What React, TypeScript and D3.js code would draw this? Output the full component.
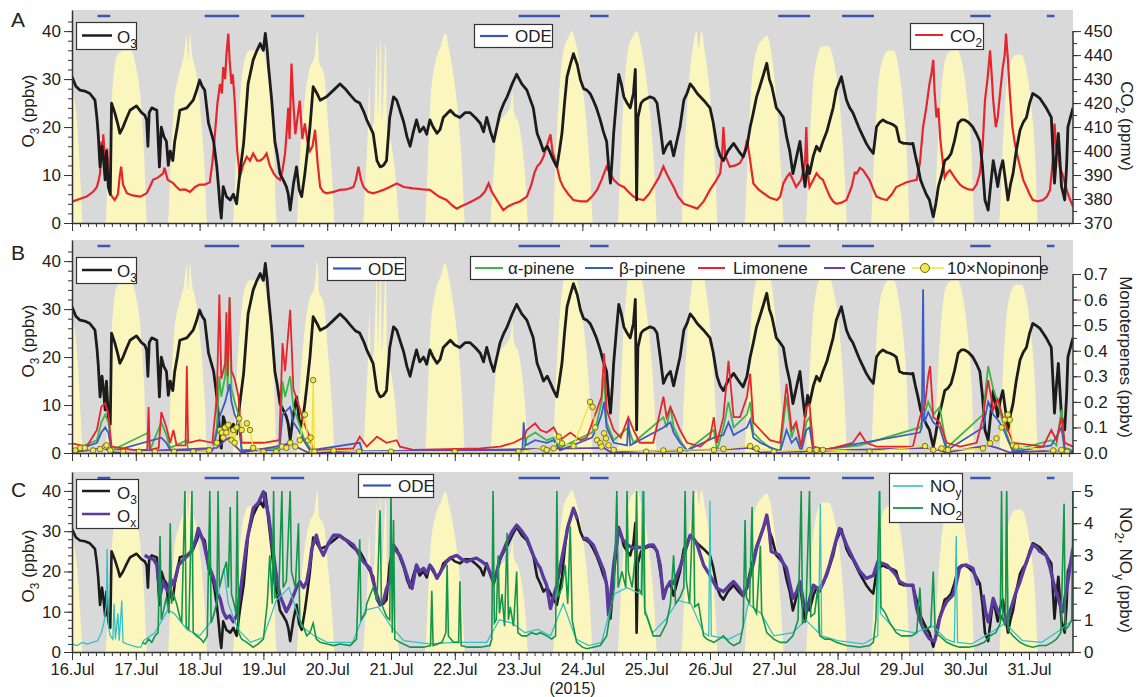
import React, { useRef, useEffect } from 'react';
import * as d3 from 'd3';

// time in days since 16 Jul 2015 00:00
const dayLabels = ['16.Jul', '17.Jul', '18.Jul', '19.Jul', '20.Jul', '21.Jul', '22.Jul', '23.Jul',
  '24.Jul', '25.Jul', '26.Jul', '27.Jul', '28.Jul', '29.Jul', '30.Jul', '31.Jul'];
const T_END = 15.69;

// scaled solar radiation (1000 = top of panel)
const solarRad = [
  [0, 620], [0.05, 560], [0.1, 380], [0.14, 150], [0.17, 0],
  [0.52, 0], [0.57, 250], [0.62, 560], [0.7, 780], [0.8, 810], [0.92, 810], [1.0, 740], [1.07, 600], [1.13, 330], [1.18, 0],
  [1.5, 0], [1.55, 300], [1.6, 560], [1.68, 700], [1.75, 780], [1.8, 880], [1.82, 760], [1.85, 890], [1.88, 800], [1.95, 700], [2.02, 500], [2.08, 250], [2.12, 0],
  [2.52, 0], [2.57, 300], [2.63, 580], [2.7, 760], [2.78, 810], [2.98, 810], [3.06, 720], [3.12, 560], [3.17, 300], [3.21, 0],
  [3.52, 0], [3.57, 300], [3.64, 560], [3.72, 720], [3.8, 780], [3.85, 900], [3.87, 760], [3.95, 700], [4.02, 450], [4.08, 200], [4.12, 0],
  [4.56, 0], [4.6, 200], [4.64, 450], [4.66, 650], [4.68, 420], [4.74, 500], [4.78, 830], [4.8, 500], [4.84, 860], [4.86, 480], [4.92, 850], [4.94, 450], [5.0, 380], [5.06, 250], [5.14, 0],
  [5.53, 0], [5.58, 300], [5.62, 580], [5.7, 760], [5.78, 830], [5.85, 890], [5.92, 800], [6.0, 650], [6.07, 450], [6.12, 230], [6.16, 0],
  [6.55, 0], [6.6, 200], [6.65, 400], [6.72, 480], [6.8, 510], [6.88, 560], [6.9, 620], [6.93, 520], [7.0, 470], [7.07, 330], [7.12, 150], [7.15, 0],
  [7.54, 0], [7.58, 300], [7.63, 580], [7.7, 800], [7.78, 870], [7.83, 900], [7.9, 840], [7.98, 700], [8.06, 480], [8.12, 250], [8.17, 0],
  [8.55, 0], [8.6, 300], [8.65, 600], [8.72, 820], [8.8, 880], [8.85, 900], [8.92, 830], [9.0, 680], [9.08, 450], [9.13, 230], [9.17, 0],
  [9.55, 0], [9.6, 320], [9.66, 620], [9.72, 800], [9.79, 900], [9.82, 820], [9.87, 900], [9.92, 800], [9.99, 640], [10.05, 400], [10.09, 200], [10.12, 0],
  [10.54, 0], [10.59, 300], [10.64, 600], [10.72, 800], [10.82, 860], [10.89, 880], [10.95, 820], [11.02, 650], [11.08, 420], [11.12, 200], [11.16, 0],
  [11.5, 0], [11.55, 300], [11.6, 580], [11.68, 780], [11.76, 830], [11.86, 830], [11.94, 760], [12.02, 600], [12.08, 380], [12.12, 180], [12.15, 0],
  [12.52, 0], [12.57, 300], [12.62, 580], [12.7, 760], [12.8, 810], [12.88, 810], [12.96, 720], [13.03, 550], [13.09, 300], [13.13, 0],
  [13.51, 0], [13.56, 300], [13.62, 600], [13.7, 780], [13.8, 810], [13.88, 810], [13.96, 740], [14.04, 560], [14.1, 330], [14.15, 0],
  [14.53, 0], [14.58, 300], [14.63, 580], [14.7, 740], [14.8, 790], [14.88, 790], [14.96, 720], [15.04, 540], [15.1, 300], [15.14, 0],
  [15.69, 0],
];

// ozone depletion events [start, end]
const odePeriods = [[0.4, 0.6], [2.08, 2.62], [3.12, 3.64], [7.0, 7.65], [8.12, 8.41],
  [11.07, 11.57], [12.07, 12.57], [14.08, 14.4], [15.28, 15.4]];

// O3 (ppbv)
const o3 = [
  [0, 30.5], [0.06, 28.5], [0.125, 27.7], [0.2, 27.5], [0.28, 27], [0.36, 25.6], [0.39, 22], [0.41, 18.7], [0.44, 11.7], [0.47, 16],
  [0.49, 13.8], [0.52, 9], [0.54, 15], [0.57, 7.5], [0.6, 6], [0.62, 25], [0.67, 23], [0.72, 20.5], [0.75, 18.7], [0.8, 20],
  [0.86, 22], [0.91, 23.5], [1.01, 24.4], [1.09, 23], [1.14, 22.5], [1.17, 21.5], [1.19, 16], [1.21, 23], [1.25, 24], [1.33, 23.5],
  [1.37, 11.7], [1.4, 20], [1.44, 18], [1.48, 17], [1.51, 12], [1.54, 15], [1.58, 13], [1.61, 17], [1.65, 20], [1.69, 23.5],
  [1.8, 24], [1.9, 25.6], [1.95, 27.5], [2.0, 29.8], [2.04, 28.5], [2.08, 27.7], [2.14, 20.8], [2.22, 17], [2.27, 11.7], [2.3, 7],
  [2.32, 3.4], [2.34, 1], [2.37, 7.6], [2.42, 5.5], [2.48, 4.8], [2.53, 6], [2.58, 4], [2.63, 10.3], [2.69, 16.6], [2.76, 29],
  [2.84, 34], [2.9, 36], [2.95, 37.4], [3.0, 36], [3.03, 39.5], [3.06, 36], [3.08, 32.6], [3.13, 25.6], [3.18, 17], [3.22, 14],
  [3.26, 10.3], [3.31, 9], [3.36, 7.6], [3.39, 6], [3.42, 2.7], [3.47, 8], [3.52, 11.7], [3.56, 7], [3.6, 5.5], [3.65, 10.3],
  [3.69, 15], [3.73, 20], [3.78, 28.4], [3.84, 27], [3.89, 25.6], [3.99, 26.3], [4.1, 27.7], [4.2, 29], [4.28, 28], [4.36, 26.7],
  [4.44, 25.5], [4.51, 25], [4.58, 23], [4.62, 21.5], [4.72, 18.7], [4.78, 13], [4.83, 11.7], [4.88, 12], [4.93, 13], [4.98, 22],
  [5.04, 26.3], [5.09, 25.6], [5.14, 23.5], [5.2, 21], [5.25, 18], [5.3, 16], [5.35, 19], [5.4, 21.5], [5.45, 19], [5.51, 20],
  [5.56, 18.5], [5.61, 21.5], [5.66, 20], [5.72, 18.7], [5.77, 19.5], [5.82, 22], [5.93, 23.5], [6.0, 22.5], [6.08, 22], [6.16, 23],
  [6.24, 23], [6.32, 22], [6.4, 20.8], [6.45, 19], [6.5, 22], [6.56, 19], [6.61, 17], [6.66, 20], [6.71, 23], [6.77, 25],
  [6.82, 26.3], [6.9, 29], [6.97, 31], [7.05, 29], [7.13, 27.7], [7.23, 24], [7.29, 18.7], [7.34, 17], [7.39, 15], [7.45, 16],
  [7.5, 14.5], [7.55, 13], [7.6, 11.7], [7.64, 15], [7.68, 18.7], [7.72, 25], [7.76, 30.5], [7.81, 33], [7.86, 35.3], [7.92, 33],
  [7.97, 29.8], [8.02, 28], [8.07, 27.7], [8.12, 27], [8.17, 25.6], [8.22, 24], [8.28, 21.5], [8.33, 19], [8.38, 17], [8.41, 12],
  [8.44, 8.3], [8.47, 14], [8.49, 18.7], [8.53, 25], [8.57, 31], [8.61, 29], [8.65, 26.3], [8.7, 25], [8.75, 24], [8.8, 27],
  [8.83, 32], [8.84, 18], [8.85, 4.8], [8.87, 22], [8.92, 25], [8.96, 25.6], [9.06, 26.3], [9.12, 26], [9.17, 25], [9.22, 20],
  [9.27, 14.5], [9.32, 16], [9.38, 17], [9.43, 14], [9.48, 17], [9.53, 20], [9.59, 25.6], [9.64, 27], [9.69, 29], [9.75, 28],
  [9.8, 27], [9.9, 25.6], [10.0, 24], [10.05, 21], [10.11, 16], [10.16, 14], [10.21, 13], [10.28, 15], [10.37, 16.6], [10.45, 15],
  [10.52, 13.8], [10.58, 16], [10.63, 20], [10.68, 23], [10.73, 26.3], [10.78, 28.4], [10.84, 31], [10.89, 33.3], [10.93, 30], [10.97, 28.4],
  [11.04, 24], [11.1, 23], [11.15, 22], [11.2, 18], [11.25, 15], [11.3, 10.3], [11.36, 14], [11.41, 17], [11.45, 12], [11.49, 7.6],
  [11.53, 12], [11.56, 10.3], [11.62, 14], [11.67, 16], [11.72, 15], [11.77, 17], [11.83, 19], [11.88, 21.5], [11.93, 24], [11.98, 27.7],
  [12.06, 30.5], [12.1, 28], [12.14, 25.6], [12.19, 24], [12.24, 23], [12.3, 21], [12.35, 19.4], [12.4, 18], [12.45, 16.6], [12.5, 15.5],
  [12.56, 14.5], [12.61, 20], [12.66, 21], [12.71, 21.5], [12.77, 21], [12.82, 20.8], [12.87, 20.5], [12.92, 20], [12.97, 17], [13.03, 16.6],
  [13.08, 16.6], [13.14, 16.5], [13.18, 16.6], [13.22, 14], [13.26, 11.7], [13.3, 9], [13.34, 7.6], [13.39, 6], [13.44, 4.8], [13.47, 3],
  [13.5, 1.3], [13.54, 4], [13.58, 7.6], [13.63, 10], [13.68, 13], [13.73, 13.5], [13.78, 14.5], [13.83, 17], [13.89, 20.8], [13.94, 21.5],
  [13.99, 21.5], [14.05, 21], [14.12, 20], [14.18, 18.5], [14.23, 17], [14.27, 12], [14.31, 4.8], [14.36, 2.7], [14.4, 8], [14.44, 13],
  [14.48, 10], [14.51, 7.6], [14.55, 11], [14.59, 13], [14.63, 9], [14.67, 4.8], [14.71, 8], [14.75, 10.3], [14.8, 15], [14.86, 19.4],
  [14.91, 21], [14.96, 22], [15.01, 25], [15.06, 27], [15.12, 26.5], [15.17, 26], [15.22, 25], [15.27, 24], [15.31, 23], [15.35, 22],
  [15.38, 14], [15.4, 8.3], [15.43, 14], [15.46, 18.7], [15.49, 12], [15.51, 7.6], [15.54, 6], [15.56, 4.8], [15.59, 12], [15.61, 20],
  [15.65, 22], [15.69, 24],
];

// CO2 (ppmv)
const co2 = [
  [0, 378.9], [0.12, 380], [0.23, 381], [0.33, 383], [0.39, 385], [0.42, 388], [0.44, 390.7], [0.46, 404], [0.48, 398], [0.49, 407],
  [0.52, 395], [0.55, 401], [0.58, 388], [0.6, 382], [0.67, 379.6], [0.72, 382], [0.75, 390], [0.77, 393.5], [0.8, 386], [0.86, 382.4],
  [0.95, 381.5], [1.07, 381], [1.17, 382.4], [1.22, 385], [1.27, 388], [1.35, 389], [1.43, 390.7], [1.45, 393], [1.5, 388], [1.59, 386.5],
  [1.64, 385], [1.69, 383.8], [1.77, 384], [1.85, 383], [1.93, 385], [2.0, 386], [2.08, 386], [2.16, 387], [2.2, 395], [2.24, 407],
  [2.28, 420], [2.32, 428], [2.35, 424], [2.37, 435], [2.4, 430], [2.42, 440], [2.45, 449], [2.47, 438], [2.5, 428], [2.52, 432],
  [2.55, 421], [2.57, 410], [2.59, 400], [2.61, 395], [2.63, 389], [2.68, 394], [2.74, 397.6], [2.79, 396], [2.84, 399], [2.9, 396],
  [2.95, 396], [3.0, 397], [3.05, 399], [3.1, 394], [3.16, 390.7], [3.21, 389], [3.26, 388], [3.3, 392], [3.34, 399], [3.37, 410],
  [3.39, 418], [3.41, 405], [3.44, 436.5], [3.47, 420], [3.5, 407], [3.54, 415], [3.57, 421], [3.61, 405], [3.65, 411.5], [3.69, 404],
  [3.73, 400], [3.77, 402], [3.81, 408.8], [3.85, 395], [3.89, 385], [3.94, 383], [3.99, 382.4], [4.1, 383], [4.2, 383.8], [4.3, 384],
  [4.41, 385], [4.45, 388], [4.49, 393.5], [4.53, 388], [4.57, 385], [4.64, 383], [4.72, 382.4], [4.8, 383], [4.88, 383.8], [4.98, 385],
  [5.09, 386.5], [5.2, 385], [5.35, 384.4], [5.5, 384], [5.61, 383.8], [5.75, 381], [5.87, 379.6], [5.95, 377.5], [6.03, 376], [6.1, 377],
  [6.19, 378], [6.3, 379.5], [6.4, 381], [6.47, 383], [6.53, 386.5], [6.58, 383], [6.66, 379.6], [6.72, 377], [6.76, 375.4], [6.84, 377],
  [6.92, 378], [7.02, 379], [7.13, 381], [7.2, 386], [7.25, 391], [7.29, 393.5], [7.34, 395], [7.39, 397.6], [7.44, 402], [7.5, 407],
  [7.53, 400], [7.6, 393.5], [7.65, 388], [7.7, 385], [7.78, 382], [7.86, 379.6], [7.97, 379], [8.07, 379], [8.15, 381], [8.23, 383.8],
  [8.3, 388], [8.38, 393.5], [8.43, 391], [8.49, 388], [8.57, 386], [8.65, 385], [8.72, 383], [8.8, 381], [8.88, 380], [8.96, 379.6],
  [9.04, 382], [9.11, 385], [9.2, 389], [9.27, 393.5], [9.33, 390], [9.43, 385], [9.5, 381], [9.59, 378], [9.7, 377], [9.8, 376],
  [9.9, 379], [10.0, 383.8], [10.08, 387], [10.16, 390.7], [10.19, 398], [10.21, 410], [10.24, 398], [10.31, 393.5], [10.4, 394], [10.47, 395],
  [10.53, 398], [10.58, 404.6], [10.62, 398], [10.68, 386.5], [10.76, 384], [10.84, 382.4], [10.94, 380.5], [11.05, 379.6], [11.1, 381], [11.15, 386.5],
  [11.2, 389], [11.25, 390.7], [11.3, 388], [11.35, 385], [11.43, 388], [11.49, 395], [11.51, 410], [11.53, 392], [11.56, 385], [11.62, 388],
  [11.67, 390.7], [11.72, 389], [11.77, 388], [11.83, 384], [11.88, 381], [11.93, 379], [11.98, 378], [12.06, 378.5], [12.14, 379.6], [12.22, 385],
  [12.27, 391], [12.3, 390.7], [12.35, 393], [12.4, 392], [12.45, 390], [12.5, 388], [12.56, 384], [12.61, 381], [12.7, 380], [12.77, 379.6],
  [12.85, 382], [12.92, 385], [13.0, 386], [13.08, 387], [13.16, 387.5], [13.24, 388], [13.29, 395], [13.34, 410], [13.39, 418], [13.44, 428],
  [13.47, 432], [13.5, 438], [13.52, 425], [13.55, 414], [13.58, 418], [13.61, 405], [13.63, 400], [13.66, 393], [13.68, 389], [13.72, 391],
  [13.76, 392], [13.81, 390], [13.86, 388], [13.92, 386], [13.97, 385], [14.05, 384], [14.12, 383.8], [14.18, 386], [14.23, 390.7], [14.27, 400],
  [14.31, 421], [14.35, 430], [14.39, 442], [14.42, 430], [14.44, 421], [14.48, 410], [14.51, 414], [14.55, 425], [14.59, 435], [14.62, 440],
  [14.64, 449], [14.67, 438], [14.7, 424], [14.74, 410], [14.78, 403], [14.82, 398], [14.86, 393.5], [14.91, 388], [14.96, 385], [15.01, 382],
  [15.06, 379.6], [15.14, 379], [15.22, 379.6], [15.28, 381], [15.33, 383.8], [15.37, 395], [15.4, 411.5], [15.43, 400], [15.46, 405], [15.48, 393.5],
  [15.53, 390], [15.59, 383.8], [15.64, 380], [15.69, 376.8],
];

// monoterpenes (ppbv)
const limonene = [
  [0, 0.038], [0.23, 0.025], [0.39, 0.09], [0.46, 0.18], [0.52, 0.195], [0.57, 0.155], [0.62, 0.025], [0.96, 0.012], [1.18, 0.012], [1.2, 0.18],
  [1.22, 0.012], [1.36, 0.02], [1.4, 0.16], [1.48, 0.1], [1.54, 0.04], [1.59, 0.09], [1.64, 0.03], [1.78, 0.03], [1.8, 0.34], [1.82, 0.04],
  [2.0, 0.05], [2.2, 0.04], [2.27, 0.22], [2.31, 0.62], [2.34, 0.29], [2.4, 0.35], [2.42, 0.55], [2.44, 0.3], [2.47, 0.61], [2.5, 0.32],
  [2.55, 0.29], [2.61, 0.22], [2.66, 0.04], [3.0, 0.04], [3.25, 0.05], [3.3, 0.43], [3.34, 0.32], [3.42, 0.56], [3.47, 0.25], [3.55, 0.19],
  [3.63, 0.12], [3.73, 0.06], [3.78, 0.01], [4.41, 0.018], [4.51, 0.064], [4.62, 0.025], [4.78, 0.064], [4.93, 0.04], [5.09, 0.05], [5.14, 0.025],
  [5.35, 0.012], [6.4, 0.018], [6.71, 0.025], [6.92, 0.04], [7.08, 0.06], [7.13, 0.09], [7.26, 0.116], [7.34, 0.09], [7.44, 0.08], [7.55, 0.1],
  [7.65, 0.05], [7.81, 0.08], [7.97, 0.05], [8.07, 0.06], [8.15, 0.116], [8.23, 0.17], [8.3, 0.22], [8.34, 0.39], [8.38, 0.17], [8.49, 0.09],
  [8.6, 0.06], [8.72, 0.14], [8.8, 0.09], [8.9, 0.04], [9.11, 0.04], [9.27, 0.22], [9.32, 0.14], [9.38, 0.18], [9.43, 0.15], [9.53, 0.09],
  [9.64, 0.04], [9.85, 0.025], [10.0, 0.06], [10.06, 0.14], [10.11, 0.04], [10.21, 0.14], [10.29, 0.36], [10.37, 0.14], [10.47, 0.14], [10.58, 0.22],
  [10.63, 0.31], [10.68, 0.12], [10.79, 0.09], [10.94, 0.05], [11.1, 0.04], [11.2, 0.27], [11.28, 0.09], [11.35, 0.12], [11.43, 0.025], [11.51, 0.18],
  [11.56, 0.19], [11.62, 0.025], [11.82, 0.012], [12.24, 0.04], [12.35, 0.08], [12.45, 0.04], [12.61, 0.025], [13.18, 0.025], [13.29, 0.14], [13.37, 0.19],
  [13.42, 0.3], [13.45, 0.34], [13.5, 0.14], [13.6, 0.12], [13.71, 0.04], [13.92, 0.025], [14.18, 0.04], [14.28, 0.14], [14.36, 0.285], [14.44, 0.17],
  [14.51, 0.21], [14.59, 0.14], [14.67, 0.09], [14.75, 0.04], [15.22, 0.025], [15.35, 0.09], [15.43, 0.05], [15.51, 0.14], [15.56, 0.04], [15.69, 0.025],
];
const alphaPinene = [
  [0, 0.01], [0.39, 0.05], [0.46, 0.12], [0.52, 0.15], [0.57, 0.12], [0.62, 0.01], [1.2, 0.08], [1.22, 0.01], [1.4, 0.12], [1.48, 0.07],
  [1.54, 0.02], [1.8, 0.05], [1.82, 0.01], [2.2, 0.01], [2.27, 0.1], [2.31, 0.3], [2.34, 0.22], [2.4, 0.3], [2.42, 0.45], [2.44, 0.25],
  [2.47, 0.6], [2.5, 0.25], [2.55, 0.2], [2.61, 0.15], [2.66, 0.01], [3.25, 0.02], [3.3, 0.28], [3.34, 0.22], [3.42, 0.3], [3.47, 0.18],
  [3.55, 0.12], [3.63, 0.06], [3.73, 0.02], [3.78, 0.005], [7.08, 0.01], [7.13, 0.06], [7.26, 0.08], [7.44, 0.05], [7.55, 0.06], [7.65, 0.02],
  [8.15, 0.08], [8.23, 0.12], [8.3, 0.2], [8.34, 0.3], [8.38, 0.12], [8.49, 0.05], [8.72, 0.1], [8.8, 0.04], [9.27, 0.14], [9.32, 0.1],
  [9.38, 0.18], [9.43, 0.1], [9.53, 0.05], [9.64, 0.01], [10.06, 0.09], [10.11, 0.01], [10.21, 0.1], [10.29, 0.2], [10.37, 0.1], [10.58, 0.15],
  [10.63, 0.2], [10.68, 0.08], [10.79, 0.05], [10.94, 0.02], [11.1, 0.01], [11.2, 0.22], [11.28, 0.06], [11.35, 0.12], [11.43, 0.01], [11.51, 0.12],
  [11.56, 0.14], [11.62, 0.01], [12.35, 0.03], [13.29, 0.1], [13.37, 0.16], [13.42, 0.2], [13.5, 0.15], [13.6, 0.18], [13.71, 0.02], [14.28, 0.15],
  [14.36, 0.34], [14.44, 0.25], [14.51, 0.2], [14.59, 0.12], [14.67, 0.06], [14.75, 0.01], [15.35, 0.05], [15.43, 0.03], [15.51, 0.17], [15.56, 0.02],
  [15.69, 0.01],
];
const betaPinene = [
  [0, 0.005], [0.39, 0.04], [0.46, 0.08], [0.52, 0.1], [0.57, 0.08], [0.62, 0.005], [1.4, 0.06], [1.48, 0.04], [1.54, 0.01], [2.2, 0.01],
  [2.27, 0.08], [2.31, 0.14], [2.4, 0.2], [2.47, 0.27], [2.5, 0.2], [2.55, 0.15], [2.61, 0.12], [2.66, 0.01], [3.25, 0.01], [3.3, 0.15],
  [3.42, 0.18], [3.47, 0.12], [3.55, 0.09], [3.63, 0.05], [3.73, 0.01], [4.51, 0.04], [4.55, 0.005], [7.06, 0.01], [7.08, 0.12], [7.11, 0.03],
  [7.26, 0.05], [7.44, 0.04], [7.55, 0.05], [7.65, 0.01], [8.15, 0.06], [8.23, 0.1], [8.3, 0.15], [8.34, 0.2], [8.38, 0.1], [8.49, 0.04],
  [8.7, 0.03], [8.72, 0.13], [8.75, 0.03], [9.27, 0.1], [9.38, 0.12], [9.43, 0.08], [9.53, 0.04], [9.64, 0.01], [10.06, 0.06], [10.21, 0.07],
  [10.29, 0.12], [10.37, 0.07], [10.58, 0.1], [10.63, 0.13], [10.68, 0.06], [10.79, 0.04], [11.1, 0.005], [11.2, 0.09], [11.28, 0.04], [11.35, 0.06],
  [11.43, 0.005], [11.51, 0.09], [11.56, 0.1], [11.62, 0.005], [13.29, 0.08], [13.32, 0.1], [13.34, 0.64], [13.36, 0.12], [13.42, 0.16], [13.5, 0.12],
  [13.6, 0.1], [13.71, 0.01], [14.28, 0.1], [14.36, 0.2], [14.44, 0.15], [14.51, 0.13], [14.59, 0.1], [14.67, 0.05], [14.75, 0.005], [15.35, 0.03],
  [15.51, 0.1], [15.56, 0.01], [15.69, 0.005],
];
const carene = [
  [0, 0.002], [0.5, 0.02], [0.62, 0.002], [2.27, 0.02], [2.4, 0.05], [2.47, 0.06], [2.55, 0.03], [2.66, 0.002], [3.3, 0.03], [3.42, 0.04],
  [3.55, 0.02], [3.7, 0.002], [8.34, 0.02], [8.45, 0.002], [10.3, 0.015], [10.63, 0.02], [10.8, 0.002], [13.4, 0.02], [13.6, 0.01], [13.7, 0.002],
  [14.36, 0.03], [14.5, 0.02], [14.7, 0.002], [15.5, 0.01], [15.69, 0.002],
];
// 10 x nopinone (ppbv)
const nopinone = [
  [0.05, 0.01], [0.13, 0.02], [0.2, 0.02], [0.33, 0.01], [0.44, 0.015], [0.52, 0.025], [0.54, 0.03], [0.6, 0.01], [0.8, 0.005], [1.05, 0.005],
  [1.3, 0.005], [1.6, 0.005], [1.9, 0.005], [2.15, 0.01], [2.27, 0.04], [2.32, 0.09], [2.35, 0.08], [2.37, 0.06], [2.4, 0.1], [2.42, 0.08],
  [2.45, 0.11], [2.5, 0.05], [2.53, 0.09], [2.55, 0.04], [2.58, 0.1], [2.62, 0.135], [2.66, 0.09], [2.74, 0.116], [2.79, 0.09], [2.84, 0.02],
  [3.0, 0.005], [3.2, 0.005], [3.29, 0.025], [3.36, 0.02], [3.42, 0.04], [3.5, 0.025], [3.57, 0.05], [3.65, 0.15], [3.7, 0.05], [3.74, 0.06],
  [3.76, 0.005], [3.78, 0.285], [3.8, 0.005], [4.1, 0.01], [4.5, 0.005], [5.0, 0.005], [6.0, 0.005], [7.0, 0.005], [7.39, 0.018], [7.44, 0.012],
  [7.55, 0.018], [7.63, 0.064], [7.68, 0.038], [7.86, 0.027], [8.12, 0.2], [8.16, 0.18], [8.2, 0.1], [8.23, 0.05], [8.28, 0.038], [8.3, 0.025],
  [8.34, 0.077], [8.37, 0.057], [8.41, 0.03], [8.49, 0.012], [9.0, 0.005], [9.27, 0.01], [9.53, 0.012], [10.06, 0.012], [10.21, 0.016], [10.63, 0.027],
  [10.73, 0.018], [11.0, 0.005], [11.56, 0.012], [11.67, 0.012], [11.77, 0.012], [12.5, 0.005], [13.37, 0.027], [13.5, 0.012], [13.63, 0.018], [13.73, 0.012],
  [14.28, 0.018], [14.39, 0.038], [14.49, 0.057], [14.57, 0.1], [14.62, 0.13], [14.67, 0.15], [14.7, 0.13], [14.75, 0.03], [14.8, 0.025], [15.38, 0.01],
  [15.51, 0.012], [15.6, 0.005],
];

// Ox (ppbv), null = gap
const ox = [
  [1.14, 24], [1.22, 23.3], [1.28, 23], [1.33, 21.6], [1.38, 14], [1.43, 17.5], [1.47, 16], [1.51, 15], [1.55, 18], [1.59, 16.6],
  [1.63, 19], [1.67, 21.6], [1.77, 23.3], [1.88, 25], [1.94, 28], [1.98, 30.7], [2.02, 29], [2.06, 27.4], [2.14, 21.6], [2.22, 18.3],
  [2.27, 15], [2.32, 13.3], [2.37, 10], [2.42, 8.4], [2.47, 9], [2.53, 7.5], [2.58, 9], [2.63, 14], [2.68, 20], [2.74, 27.4],
  [2.84, 35.7], [2.92, 37], [3.0, 39.8], [3.04, 37], [3.08, 34], [3.16, 24], [3.21, 18], [3.26, 14], [3.31, 12], [3.36, 10],
  [3.42, 12], [3.47, 14], [3.52, 16], [3.57, 17.5], [3.63, 16], [3.68, 17.5], [3.72, 21], [3.76, 25.8], [3.83, 29], [3.88, 26],
  [3.94, 24], [4.02, 27], [4.1, 29], [4.18, 29], [4.25, 28.2], [4.33, 27.5], [4.41, 26.6], [4.49, 24.5], [4.57, 22.4], [4.67, 20.8],
  [4.73, 17], [4.78, 14.2], [4.83, 11.7], [4.88, 12.5], [4.93, 15.8], [4.98, 17.5], [5.04, 26.6], [5.09, 25], [5.14, 24], [5.2, 21.5],
  [5.25, 19], [5.29, 17], [5.33, 15.8], [5.4, 21.6], [5.45, 20], [5.51, 20.8], [5.56, 19.5], [5.61, 21.6], [5.66, 20.5], [5.72, 18.3],
  [5.78, 20], [5.87, 22.4], [5.95, 23.5], [6.03, 24], [6.11, 23], [6.19, 22.4], [6.27, 23], [6.34, 23.3], [6.42, 22.5], [6.5, 21.6],
  [6.56, 19.5], [6.61, 17.5], [6.66, 20], [6.71, 23.3], [6.77, 25.5], [6.82, 27.4], [6.9, 30], [6.97, 31.5], [7.05, 30], [7.13, 28.2],
  [7.23, 24], [7.29, 22], [7.34, 20.8], [7.39, 18.5], [7.44, 16.6], [7.5, 10.8], [7.55, 14], [7.6, 16.6], [7.65, 21], [7.7, 25],
  [7.78, 31.5], [7.86, 35.7], [7.9, 34], [7.92, 33], [7.96, null], [8.0, 28.2], [8.07, 28.2], [8.17, 26.6], [8.28, 22.4], [8.34, 20],
  [8.38, 16.6], [8.41, 9.2], [8.45, 15], [8.49, 21.6], [8.57, 30.7], [8.63, 28], [8.7, 26.6], [8.8, 25.8], [8.88, 26], [8.96, 25.8],
  [9.04, 26.5], [9.11, 26.6], [9.17, 25], [9.22, 21.6], [9.27, 13.3], [9.32, 16], [9.38, 17.5], [9.43, 17], [9.48, 19], [9.53, 21],
  [9.59, 24], [9.69, 29], [9.75, 28], [9.8, 26.6], [9.9, 21.6], [10.0, 19], [10.05, 17.5], [10.11, 15.8], [10.21, 15], [10.3, 16.5],
  [10.37, 17.5], [10.45, 16], [10.52, 14.2], [10.58, 16], [10.63, 19], [10.68, 22], [10.73, 25.8], [10.78, 28.2], [10.84, 31], [10.89, 34],
  [10.93, 30], [10.96, 25], [11.03, 24.5], [11.09, 24], [11.15, 22], [11.2, 20.8], [11.25, 17], [11.3, 13.3], [11.36, 15], [11.41, 17.5],
  [11.46, 13], [11.51, 10], [11.56, 13], [11.62, 16.6], [11.67, 16], [11.72, 15.8], [11.77, 17], [11.82, 19], [11.88, 22], [11.93, 25],
  [11.98, 28], [12.03, 30.7], [12.08, 29], [12.14, 26.6], [12.24, 23.3], [12.3, 21.5], [12.35, 20], [12.45, 18.3], [12.56, 19], [12.63, 22.4],
  [12.7, 22], [12.77, 21.6], [12.87, 20], [12.92, 19], [12.97, 17.5], [13.08, 16.6], [13.18, 16.6], [13.24, 10.8], [13.29, 8], [13.34, 5.9],
  [13.39, 4.5], [13.44, 3.3], [13.52, 2.6], [13.56, 5], [13.6, 8.4], [13.66, 11], [13.71, 12.5], [13.81, 14.2], [13.86, 17], [13.91, 20.8],
  [13.96, 21.5], [14.02, 21.6], [14.12, 20.8], [14.2, 16.6], [14.24, null], [14.28, 14.2], [14.32, 10], [14.36, 7.5], [14.4, 10], [14.44, 13.3],
  [14.49, 11], [14.54, 9.2], [14.6, 8], [14.65, 7.5], [14.7, 10], [14.75, 12.5], [14.8, 15], [14.86, 17.5], [14.91, 20], [14.96, 22.4],
  [15.01, 24.5], [15.06, 26.6], [15.12, 26], [15.17, 25], [15.27, 24], [15.33, 21], [15.38, 17.5], [15.42, 15], [15.46, 13.3], [15.5, 11],
  [15.53, 10], [15.57, 14], [15.61, 17.5], [15.65, 22], [15.69, 25.8],
];

// NO2 (ppbv)
const no2 = [
  [1.1, 0.3], [1.15, 0.25], [1.2, 0.4], [1.25, 0.3], [1.3, 0.5], [1.35, 0.6], [1.38, 3.6], [1.4, 1.0], [1.43, 1.25], [1.48, 1.7],
  [1.52, 1.2], [1.54, 4.0], [1.56, 1.5], [1.59, 1.8], [1.64, 1.5], [1.7, 1.0], [1.72, 0.94], [1.77, 5.0], [1.79, 0.8], [1.83, 0.7],
  [1.88, 5.0], [1.9, 0.6], [1.95, 0.5], [2.02, 0.4], [2.06, 0.3], [2.12, 0.5], [2.16, 5.0], [2.18, 0.9], [2.23, 1.2], [2.27, 1.5],
  [2.29, 5.0], [2.31, 2.0], [2.36, 2.4], [2.42, 2.8], [2.45, 2.0], [2.48, 4.5], [2.5, 1.8], [2.54, 1.5], [2.57, 1.2], [2.59, 5.0],
  [2.61, 0.6], [2.66, 0.4], [2.74, 0.3], [2.84, 0.15], [2.92, 0.25], [3.0, 0.4], [3.06, 1.5], [3.1, 3.0], [3.14, 1.5], [3.16, 5.0],
  [3.18, 1.7], [3.24, 1.8], [3.29, 5.0], [3.31, 2.0], [3.36, 2.2], [3.42, 5.0], [3.44, 2.5], [3.5, 2.0], [3.55, 4.0], [3.57, 1.0],
  [3.62, 0.8], [3.68, 0.5], [3.73, 0.6], [3.78, 0.9], [3.83, 0.4], [3.89, 0.3], [4.0, 0.25], [4.1, 0.2], [4.2, 0.25], [4.36, 0.2],
  [4.46, 0.4], [4.51, 3.5], [4.53, 1.0], [4.6, 1.2], [4.62, 1.5], [4.68, 1.8], [4.72, 2.0], [4.78, 1.6], [4.83, 4.4], [4.85, 1.5],
  [4.93, 1.1], [4.98, 1.0], [5.0, 5.0], [5.02, 0.6], [5.04, 4.1], [5.06, 0.4], [5.14, 0.3], [5.3, 0.15], [5.51, 0.15], [5.62, 0.2],
  [5.64, 1.9], [5.66, 0.2], [5.8, 0.3], [5.86, 0.6], [5.88, 2.7], [5.9, 0.5], [5.98, 0.3], [6.06, 0.3], [6.08, 2.2], [6.1, 0.2],
  [6.2, 0.15], [6.4, 0.15], [6.55, 0.2], [6.58, 0.4], [6.6, 5.0], [6.62, 0.9], [6.65, 1.0], [6.68, 3.0], [6.7, 1.2], [6.74, 1.8],
  [6.78, 0.8], [6.82, 3.7], [6.84, 1.0], [6.87, 1.4], [6.92, 0.8], [6.97, 2.5], [6.99, 0.6], [7.05, 0.5], [7.13, 0.5], [7.2, 0.6],
  [7.28, 0.55], [7.34, 0.6], [7.44, 0.5], [7.52, 0.4], [7.58, 0.5], [7.6, 5.0], [7.62, 1.7], [7.68, 2.0], [7.73, 2.7], [7.77, 1.5],
  [7.81, 3.9], [7.84, 1.0], [7.91, 0.3], [8.0, 0.15], [8.07, 0.1], [8.17, 0.15], [8.28, 0.2], [8.38, 0.5], [8.44, 1.25], [8.5, 2.0],
  [8.54, 5.0], [8.56, 2.0], [8.62, 2.5], [8.68, 2.0], [8.7, 5.0], [8.72, 2.5], [8.78, 2.0], [8.83, 3.0], [8.85, 5.0], [8.87, 2.0],
  [8.93, 1.8], [8.96, 5.0], [8.98, 1.2], [9.01, 1.1], [9.11, 0.5], [9.22, 0.5], [9.32, 0.9], [9.38, 1.5], [9.43, 3.0], [9.46, 1.5],
  [9.53, 1.7], [9.59, 2.0], [9.61, 5.0], [9.63, 2.2], [9.68, 1.5], [9.74, 5.0], [9.76, 1.4], [9.82, 1.5], [9.9, 0.5], [9.95, 0.4],
  [10.06, 0.3], [10.14, 0.4], [10.21, 0.5], [10.3, 0.3], [10.37, 0.2], [10.47, 0.3], [10.52, 0.8], [10.55, 4.1], [10.57, 1.7], [10.62, 1.5],
  [10.66, 4.5], [10.68, 1.4], [10.73, 1.2], [10.79, 3.3], [10.81, 1.2], [10.89, 0.6], [11.0, 0.4], [11.1, 0.3], [11.2, 0.3], [11.3, 0.5],
  [11.38, 1.0], [11.43, 5.0], [11.45, 0.9], [11.5, 1.0], [11.56, 5.0], [11.58, 1.1], [11.64, 1.2], [11.69, 2.0], [11.72, 0.5], [11.8, 0.4],
  [11.88, 0.4], [11.98, 0.3], [12.14, 0.2], [12.35, 0.15], [12.5, 0.2], [12.56, 0.3], [12.6, 1.0], [12.66, 5.0], [12.68, 1.4], [12.75, 1.2],
  [12.82, 0.9], [12.92, 0.6], [13.0, 0.5], [13.08, 0.5], [13.16, 0.5], [13.24, 0.6], [13.29, 2.0], [13.32, 0.8], [13.39, 0.7], [13.46, 0.8],
  [13.5, 2.5], [13.53, 0.6], [13.6, 0.5], [13.71, 0.3], [13.82, 0.2], [13.91, 0.15], [14.05, 0.15], [14.18, 0.2], [14.3, 0.3], [14.39, 0.5],
  [14.48, 0.6], [14.55, 0.9], [14.57, 5.0], [14.59, 1.0], [14.63, 0.8], [14.65, 5.0], [14.67, 0.7], [14.75, 0.5], [14.86, 0.3], [14.96, 0.2],
  [15.06, 0.15], [15.17, 0.2], [15.27, 0.2], [15.36, 0.3], [15.43, 0.4], [15.5, 0.6], [15.55, 4.6], [15.57, 0.7], [15.62, 0.8], [15.67, 1.0],
  [15.69, 5.0],
];

// NOy (ppbv)
const noy = [
  [0, 0.25], [0.08, 0.2], [0.16, 0.3], [0.24, 0.25], [0.32, 0.3], [0.4, 0.35], [0.46, 0.6], [0.5, 0.9], [0.54, 1.5], [0.55, 3.2],
  [0.57, 0.8], [0.6, 0.5], [0.64, 0.4], [0.66, 1.5], [0.68, 0.4], [0.72, 1.2], [0.74, 0.35], [0.78, 1.6], [0.8, 0.3], [0.86, 0.25],
  [0.94, 0.2], [1.02, 0.15], [1.08, 0.15], [1.12, 0.35], [1.3, 0.6], [1.5, 1.3], [1.6, 1.2], [1.8, 0.7], [2.0, 0.5], [2.2, 1.0],
  [2.38, 2.6], [2.45, 1.5], [2.6, 0.7], [2.8, 0.3], [3.0, 0.45], [3.2, 1.6], [3.4, 2.0], [3.6, 0.8], [3.8, 0.5], [4.0, 0.3],
  [4.4, 0.3], [4.6, 1.3], [4.8, 1.4], [5.0, 0.8], [5.2, 0.35], [5.6, 0.25], [6.0, 0.3], [6.5, 0.3], [6.7, 1.0], [6.9, 0.9],
  [7.1, 0.6], [7.3, 0.7], [7.5, 0.5], [7.7, 1.5], [7.9, 0.4], [8.1, 0.2], [8.3, 0.3], [8.5, 1.8], [8.7, 2.0], [8.92, 1.8],
  [8.94, 5.0], [8.97, 1.4], [9.1, 0.6], [9.3, 1.0], [9.5, 1.6], [9.7, 1.5], [9.9, 0.6], [9.98, 0.5], [10.0, 4.7], [10.02, 0.5],
  [10.3, 0.4], [10.5, 0.6], [10.6, 1.5], [10.8, 1.2], [11.0, 0.5], [11.3, 0.6], [11.5, 1.0], [11.7, 0.6], [11.73, 4.6], [11.75, 0.5],
  [12.0, 0.35], [12.4, 0.25], [12.63, 0.5], [12.65, 5.0], [12.67, 1.2], [12.9, 0.7], [13.2, 0.6], [13.5, 0.8], [13.7, 0.4], [13.83, 0.3],
  [13.86, 3.6], [13.88, 0.3], [14.1, 0.25], [14.4, 0.6], [14.63, 0.9], [14.65, 5.0], [14.67, 0.8], [14.9, 0.35], [15.2, 0.3], [15.5, 0.7],
  [15.69, 1.0],
];

const FONT = '"Liberation Sans", Arial, Helvetica, sans-serif';
const GRAY = '#d9d9d9';
const YELLOW = '#fbf6bd';
const INK = '#333';
const C_O3 = '#1c1c1c';
const C_RED = '#e5262c';
const C_ODE = '#3a55b4';

// text with subscripts: parts in [] are subscripts
function richText(g, x, y, parts, size = 17, anchor = 'start', rotate = 0) {
  const t = g.append('text')
    .attr('x', x).attr('y', y)
    .attr('font-family', FONT).attr('font-size', size)
    .attr('fill', '#222').attr('text-anchor', anchor);
  if (rotate) t.attr('transform', `rotate(${rotate},${x},${y})`);
  let shifted = false;
  parts.forEach((p) => {
    const sub = Array.isArray(p);
    const s = t.append('tspan').text(sub ? p[0] : p);
    if (sub && !shifted) { s.attr('dy', size * 0.3).attr('font-size', size * 0.7); shifted = true; }
    else if (sub) s.attr('font-size', size * 0.7);
    else if (shifted) { s.attr('dy', -size * 0.3); shifted = false; }
  });
  return t;
}

function legendBox(g, x, y, w, h) {
  g.append('rect').attr('x', x + 0.5).attr('y', y + 0.5).attr('width', w).attr('height', h)
    .attr('fill', '#fff').attr('stroke', INK).attr('stroke-width', 1.2);
}

function legendLine(g, x1, x2, y, color, width = 2) {
  g.append('line').attr('x1', x1).attr('x2', x2).attr('y1', y).attr('y2', y)
    .attr('stroke', color).attr('stroke-width', width);
}

export default function App() {
  const svgRef = useRef(null);

  useEffect(() => {
    const svg = d3.select(svgRef.current);
    svg.selectAll('*').remove();

    const x = d3.scaleLinear().domain([0, T_END]).range([72, 1073]);
    const defs = svg.append('defs');

    const lineOf = (ys) => d3.line()
      .defined((d) => d[1] != null)
      .x((d) => x(d[0]))
      .y((d) => ys(d[1]));

    function panel(id, top, bottom, o3Max, letter, letterY, titleY, showLabels) {
      const g = svg.append('g');
      defs.append('clipPath').attr('id', 'clip' + id).append('rect')
        .attr('x', 72).attr('y', top).attr('width', 1073 - 72).attr('height', bottom - top);
      g.append('rect').attr('x', 72).attr('y', top).attr('width', 1073 - 72).attr('height', bottom - top)
        .attr('fill', GRAY);
      const plot = g.append('g').attr('clip-path', `url(#clip${id})`);
      const yRad = d3.scaleLinear().domain([0, 1000]).range([bottom, top]);
      plot.append('path').datum(solarRad)
        .attr('d', d3.area().x((d) => x(d[0])).y0(bottom).y1((d) => yRad(d[1])).curve(d3.curveMonotoneX))
        .attr('fill', YELLOW);
      plot.selectAll('line.ode').data(odePeriods).join('line').attr('class', 'ode')
        .attr('x1', (d) => x(d[0])).attr('x2', (d) => x(d[1]))
        .attr('y1', top + 6).attr('y2', top + 6)
        .attr('stroke', C_ODE).attr('stroke-width', 2.5);

      const yO3 = d3.scaleLinear().domain([0, o3Max]).range([bottom, top]);

      // x axis
      const minorX = g.append('g').attr('transform', `translate(0,${bottom})`)
        .call(d3.axisBottom(x).tickValues(d3.range(0, T_END, 0.125)).tickSize(4).tickSizeOuter(0).tickFormat(() => ''));
      minorX.select('.domain').remove();
      const majorX = g.append('g').attr('transform', `translate(0,${bottom})`)
        .call(d3.axisBottom(x).tickValues(d3.range(0, 16)).tickSize(8).tickSizeOuter(0).tickPadding(3)
          .tickFormat((d) => (showLabels ? dayLabels[d] : '')));
      [minorX, majorX].forEach((a) => a.selectAll('line').attr('stroke', INK));
      majorX.select('.domain').attr('stroke', INK).attr('stroke-width', 1.5);
      majorX.selectAll('text').attr('font-family', FONT).attr('font-size', 16.5).attr('fill', '#222');

      // left axis
      const minorY = g.append('g').attr('transform', 'translate(72,0)')
        .call(d3.axisLeft(yO3).tickValues(d3.range(0, 43, 2)).tickSize(4).tickFormat(() => ''));
      minorY.select('.domain').remove();
      const majorY = g.append('g').attr('transform', 'translate(72,0)')
        .call(d3.axisLeft(yO3).tickValues([0, 10, 20, 30, 40]).tickSize(8).tickSizeOuter(0).tickPadding(3));
      [minorY, majorY].forEach((a) => a.selectAll('line').attr('stroke', INK));
      majorY.select('.domain').attr('stroke', INK).attr('stroke-width', 1.5);
      majorY.selectAll('text').attr('font-family', FONT).attr('font-size', 17).attr('fill', '#222');

      richText(g, 34, titleY, ['O', ['3'], ' (ppbv)'], 17, 'middle', -90);
      g.append('text').attr('x', 11).attr('y', letterY).attr('font-family', FONT)
        .attr('font-size', 21).attr('fill', '#222').text(letter);
      return { g, plot, yO3 };
    }

    function rightAxis(g, scale, values, minors, fmt, top, bottom) {
      const minor = g.append('g').attr('transform', 'translate(1073,0)')
        .call(d3.axisRight(scale).tickValues(minors).tickSize(4).tickFormat(() => ''));
      minor.select('.domain').remove();
      const major = g.append('g').attr('transform', 'translate(1073,0)')
        .call(d3.axisRight(scale).tickValues(values).tickSize(8).tickPadding(3).tickFormat(fmt));
      major.select('.domain').remove();
      [minor, major].forEach((a) => a.selectAll('line').attr('stroke', INK));
      major.selectAll('text').attr('font-family', FONT).attr('font-size', 17).attr('fill', '#222');
      g.append('line').attr('x1', 1073).attr('x2', 1073).attr('y1', top).attr('y2', bottom)
        .attr('stroke', INK).attr('stroke-width', 1.5);
    }

    // ---------- panel A ----------
    const A = panel('A', 10, 223, 44.4, 'A', 27, 111, false);
    const yCO2 = d3.scaleLinear().domain([370, 458.8]).range([223, 10]);
    A.plot.append('path').datum(co2).attr('d', lineOf(yCO2))
      .attr('fill', 'none').attr('stroke', C_RED).attr('stroke-width', 2.2);
    A.plot.append('path').datum(o3).attr('d', lineOf(A.yO3))
      .attr('fill', 'none').attr('stroke', C_O3).attr('stroke-width', 2.8).attr('stroke-linejoin', 'round');
    rightAxis(A.g, yCO2, d3.range(370, 451, 10), d3.range(370, 451, 5), d3.format('d'), yCO2(450), 223);
    richText(A.g, 1121, 126, ['CO', ['2'], ' (ppmv)'], 17, 'middle', 90);
    legendBox(A.g, 76, 22, 60, 27);
    legendLine(A.g, 82, 112, 35.5, C_O3, 2.5);
    richText(A.g, 117, 43, ['O', ['3']]);
    legendBox(A.g, 474, 24, 78, 23);
    legendLine(A.g, 480, 508, 36, C_ODE, 2.2);
    richText(A.g, 515, 42, ['ODE']);
    legendBox(A.g, 910, 23, 73, 26);
    legendLine(A.g, 915, 943, 35, C_RED, 2);
    richText(A.g, 950, 42, ['CO', ['2']]);

    // ---------- panel B ----------
    const B = panel('B', 240, 453, 44.4, 'B', 260, 341, false);
    const yMono = d3.scaleLinear().domain([0, 0.833]).range([453, 240]);
    B.plot.append('path').datum(o3).attr('d', lineOf(B.yO3))
      .attr('fill', 'none').attr('stroke', C_O3).attr('stroke-width', 2.8).attr('stroke-linejoin', 'round');
    const mono = [
      [alphaPinene, '#3fb449'], [betaPinene, '#3b5cc6'], [limonene, C_RED], [carene, '#6a42ad'],
    ];
    mono.forEach(([data, color]) => {
      B.plot.append('path').datum(data).attr('d', lineOf(yMono))
        .attr('fill', 'none').attr('stroke', color).attr('stroke-width', 1.8);
    });
    B.plot.append('path').datum(nopinone).attr('d', lineOf(yMono))
      .attr('fill', 'none').attr('stroke', '#f0e23a').attr('stroke-width', 1.3);
    B.plot.selectAll('circle.nop').data(nopinone).join('circle').attr('class', 'nop')
      .attr('cx', (d) => x(d[0])).attr('cy', (d) => yMono(d[1])).attr('r', 2.8)
      .attr('fill', '#f2e64a').attr('stroke', '#5d5a1c').attr('stroke-width', 0.8);
    rightAxis(B.g, yMono, d3.range(0, 0.71, 0.1), d3.range(0, 0.71, 0.05), d3.format('.1f'), yMono(0.7), 453);
    richText(B.g, 1120, 357, ['Monoterpenes (ppbv)'], 17, 'middle', 90);
    legendBox(B.g, 76, 257, 60, 26);
    legendLine(B.g, 82, 112, 270, C_O3, 2.5);
    richText(B.g, 117, 277, ['O', ['3']]);
    legendBox(B.g, 327, 257, 78, 23);
    legendLine(B.g, 333, 361, 268.5, C_ODE, 2.2);
    richText(B.g, 368, 275, ['ODE']);
    legendBox(B.g, 470, 256, 570, 23);
    legendLine(B.g, 475, 503, 268, '#3fb449', 2);
    richText(B.g, 508, 274, ['α-pinene']);
    legendLine(B.g, 585, 613, 268, '#3b5cc6', 2);
    richText(B.g, 619, 274, ['β-pinene']);
    legendLine(B.g, 698, 725, 268, C_RED, 2);
    richText(B.g, 733, 274, ['Limonene']);
    legendLine(B.g, 824, 845, 268, '#6a42ad', 2);
    richText(B.g, 850, 274, ['Carene']);
    legendLine(B.g, 912, 944, 268, '#f0e23a', 1.5);
    B.g.append('circle').attr('cx', 925).attr('cy', 268).attr('r', 4.5)
      .attr('fill', '#f2e64a').attr('stroke', '#5d5a1c').attr('stroke-width', 0.9);
    richText(B.g, 947, 274, ['10×Nopinone']);

    // ---------- panel C ----------
    const C = panel('C', 472, 652, 44.7, 'C', 497, 566, true);
    const yNO = d3.scaleLinear().domain([0, 5.59]).range([652, 472]);
    C.plot.append('path').datum(o3).attr('d', lineOf(C.yO3))
      .attr('fill', 'none').attr('stroke', C_O3).attr('stroke-width', 2.6).attr('stroke-linejoin', 'round');
    C.plot.append('path').datum(ox).attr('d', lineOf(C.yO3))
      .attr('fill', 'none').attr('stroke', '#5a3a9c').attr('stroke-width', 3.4).attr('stroke-linejoin', 'round');
    C.plot.append('path').datum(noy).attr('d', lineOf(yNO))
      .attr('fill', 'none').attr('stroke', '#37bfc6').attr('stroke-width', 1.3);
    C.plot.append('path').datum(no2).attr('d', lineOf(yNO))
      .attr('fill', 'none').attr('stroke', '#14964a').attr('stroke-width', 1.6);
    rightAxis(C.g, yNO, d3.range(0, 6, 1), d3.range(0, 5.1, 0.5), d3.format('d'), yNO(5), 652);
    richText(C.g, 1120, 570, ['NO', ['2'], ', NO', ['y'], ' (ppbv)'], 17, 'middle', 90);
    legendBox(C.g, 76, 479, 62, 49);
    legendLine(C.g, 82, 110, 491, C_O3, 2.5);
    richText(C.g, 117, 499, ['O', ['3']]);
    legendLine(C.g, 82, 110, 514, '#5a3a9c', 2.5);
    richText(C.g, 117, 522, ['O', ['x']]);
    legendBox(C.g, 358, 474, 75, 23);
    legendLine(C.g, 363, 391, 485.5, C_ODE, 2.2);
    richText(C.g, 398, 492, ['ODE']);
    legendBox(C.g, 889, 473, 73, 49);
    legendLine(C.g, 893, 923, 486, '#37bfc6', 1.6);
    richText(C.g, 930, 492, ['NO', ['y']]);
    legendLine(C.g, 893, 923, 508, '#14964a', 1.8);
    richText(C.g, 930, 515, ['NO', ['2']]);

    richText(svg, (72 + 1073) / 2, 694, ['(2015)'], 16, 'middle');
  }, []);

  return (
    <svg ref={svgRef} width={1141} height={697}
      style={{ position: 'absolute', left: 0, top: 0, background: '#fff' }} />
  );
}
